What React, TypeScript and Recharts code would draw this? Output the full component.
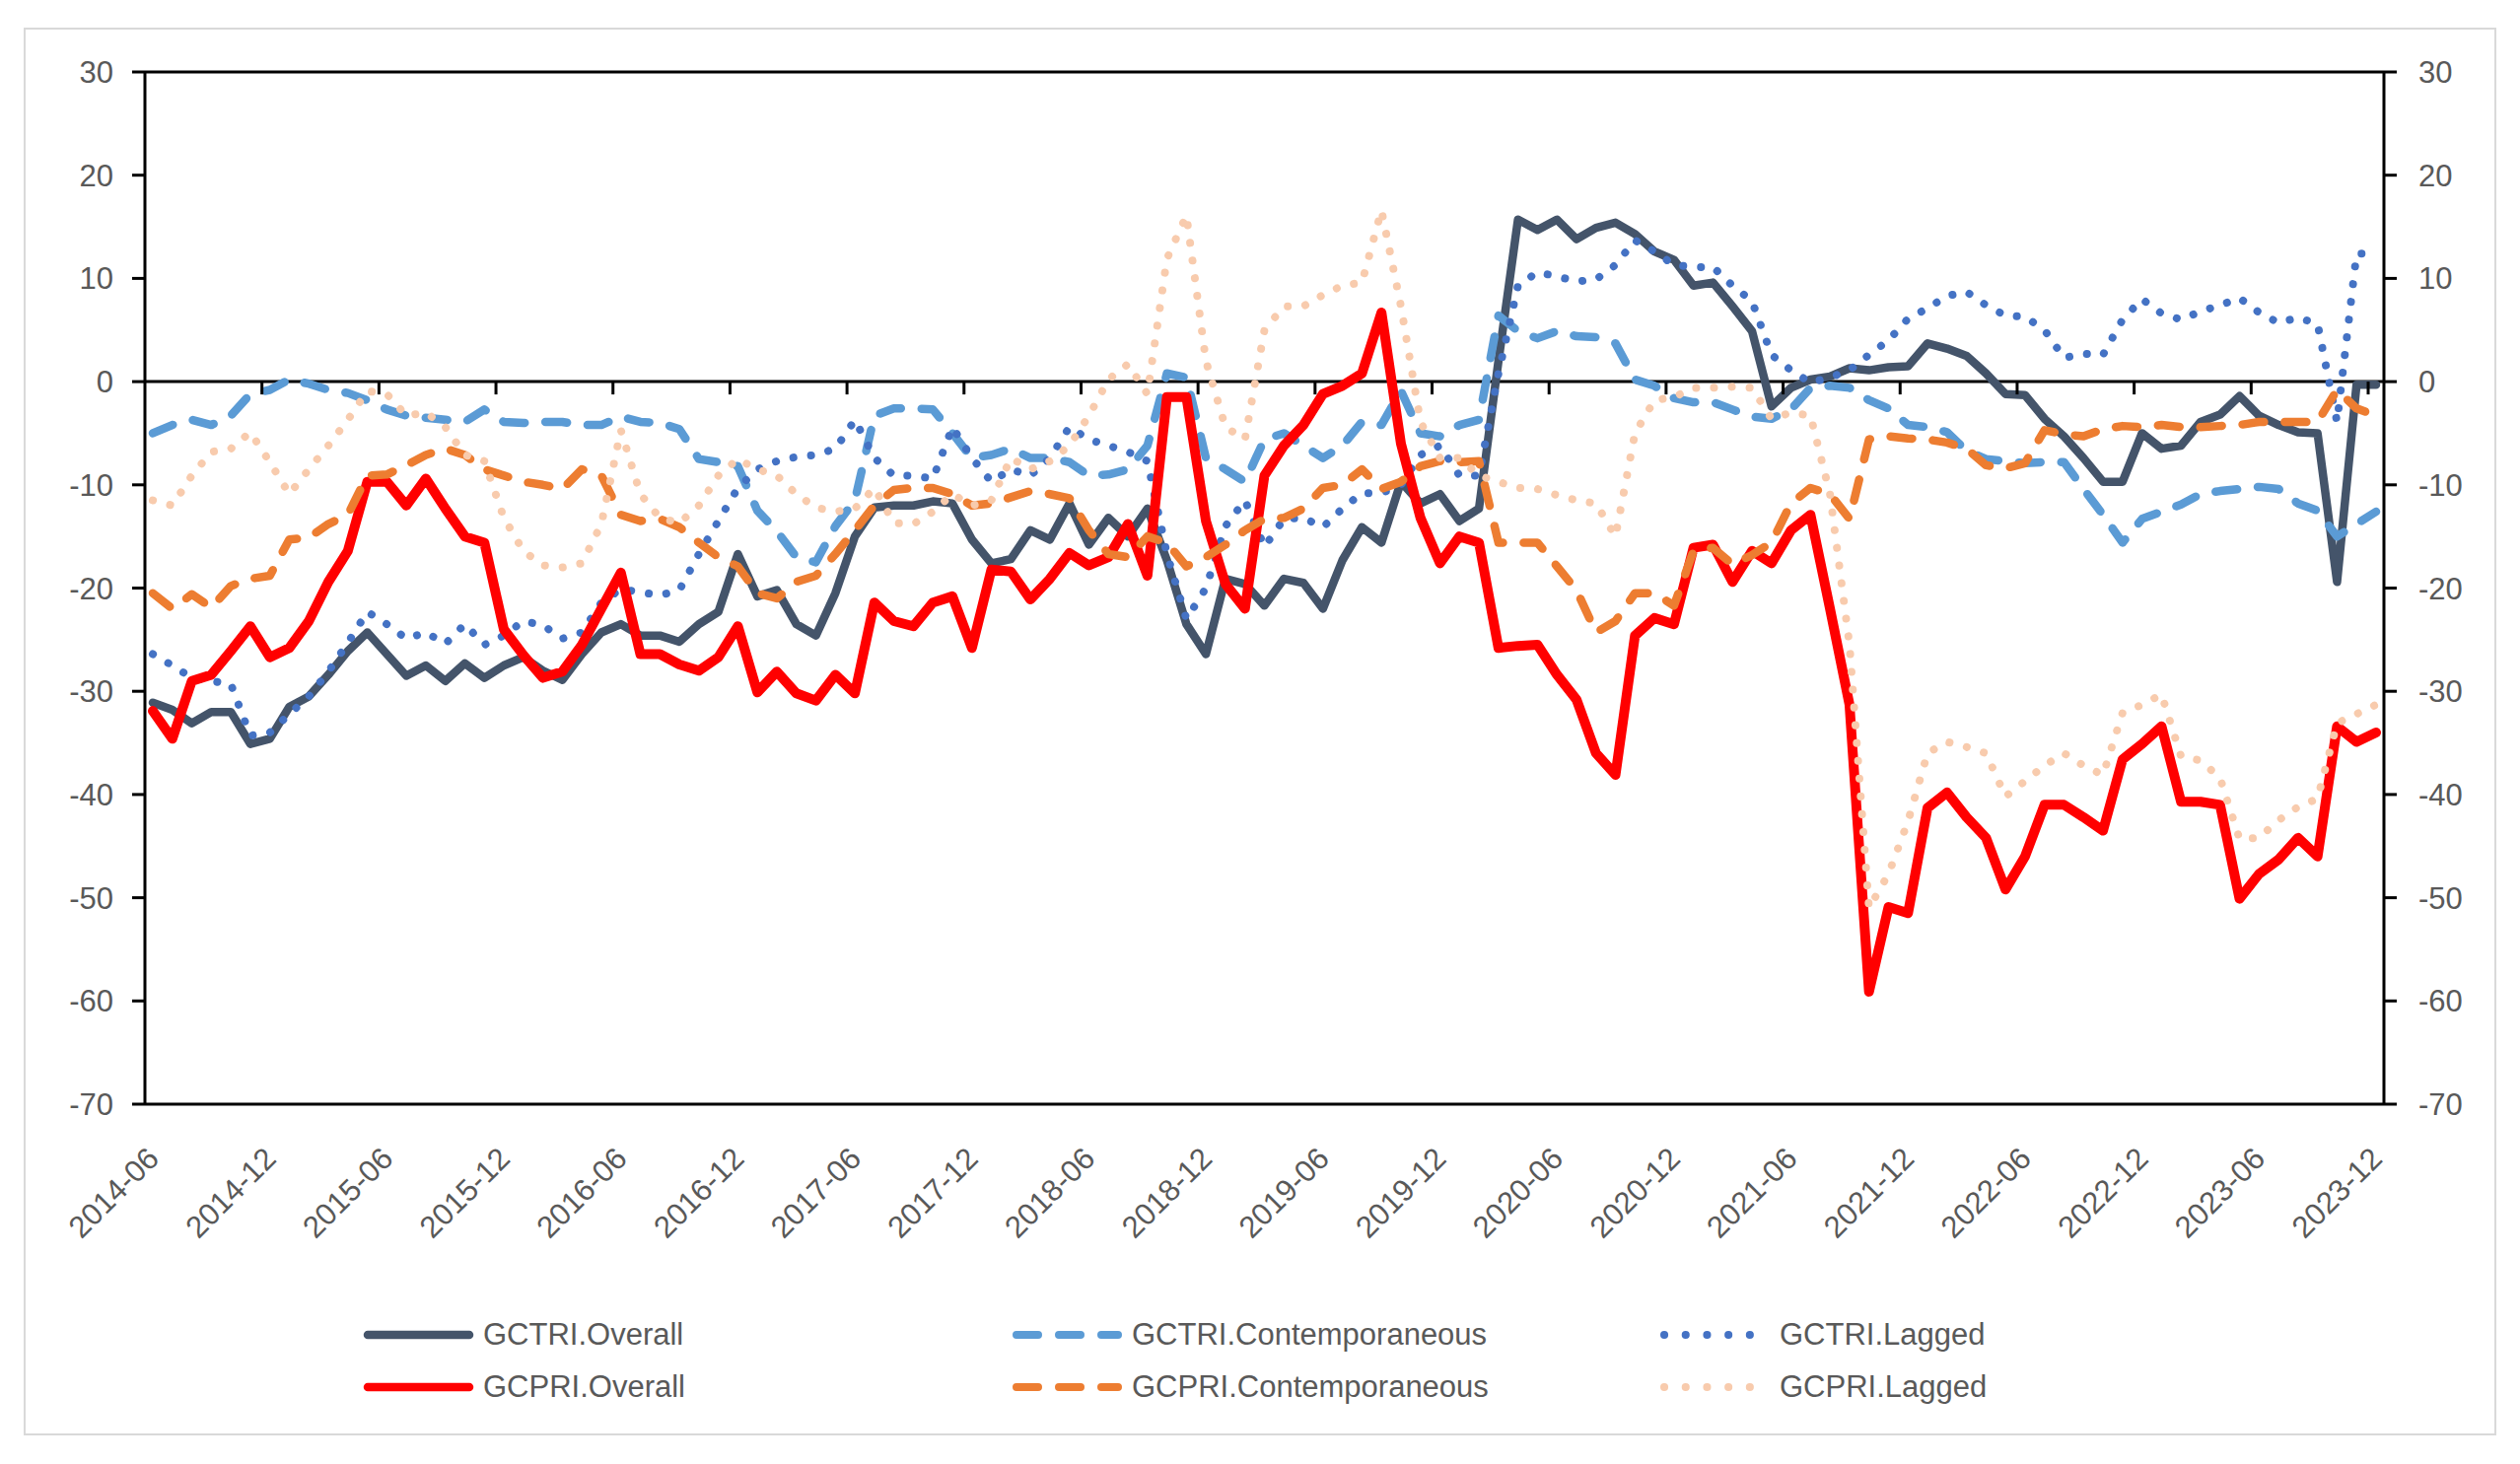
import React from "react";
import { LineChart, Line, XAxis, YAxis, ReferenceLine } from "recharts";

const FONT = "'Liberation Sans', Arial, sans-serif";
const GREY = "#595959";

// monthly categories 2014-06 .. 2023-12
const MONTHS: string[] = [];
for (let k = 0; k < 115; k++) {
  const yr = 2014 + Math.floor((5 + k) / 12);
  const mo = ((5 + k) % 12) + 1;
  MONTHS.push(`${yr}-${String(mo).padStart(2, "0")}`);
}

const Y_TICKS = [-70, -60, -50, -40, -30, -20, -10, 0, 10, 20, 30];

const GCTRI_OVERALL = [
  -31.1, -31.8, -33.1, -32.0, -32.0, -35.1, -34.6, -31.5, -30.5, -28.4, -26.1, -24.3, -26.4, -28.5, -27.5, -29.0, -27.3, -28.7, -27.5, -26.7,
  -28.0, -28.9, -26.4, -24.3, -23.5, -24.6, -24.6, -25.2, -23.5, -22.3, -16.7, -20.8, -20.2, -23.5, -24.6, -20.5, -15.0, -12.2, -12.0,
  -12.0, -11.6, -11.8, -15.3, -17.6, -17.2, -14.4, -15.3, -11.8, -15.8, -13.2, -15.0, -12.3, -17.3, -23.5, -26.4, -19.1, -19.6, -21.7,
  -19.1, -19.5, -22.0, -17.3, -14.1, -15.6, -9.7, -11.8, -10.9, -13.5, -12.3, 2.0, 15.7, 14.7, 15.7, 13.8, 14.9, 15.4, 14.3,
  12.6, 11.8, 9.3, 9.6, 7.3, 4.9, -2.4, -0.6, 0.2, 0.5, 1.3, 1.1, 1.4, 1.5, 3.7, 3.2, 2.5, 0.8, -1.2, -1.3,
  -3.6, -5.3, -7.4, -9.7, -9.7, -5.0, -6.5, -6.2, -3.9, -3.2, -1.4, -3.3, -4.2, -4.9, -5.0, -19.4, -0.3, -0.3,
];

const GCTRI_CONTEMP = [
  -5.0, -4.2, -3.7, -4.2, -3.3, -1.2, -0.8, 0.2, -0.2, -0.8, -1.1, -1.8, -2.7, -3.3, -3.5, -3.7, -3.9, -2.7, -3.9, -4.0,
  -3.9, -3.9, -4.2, -4.2, -3.4, -3.9, -4.0, -4.6, -7.5, -7.8, -8.2, -12.5, -14.5, -17.0, -17.5, -14.0, -11.5, -3.3, -2.6,
  -2.6, -2.7, -5.0, -7.4, -7.1, -6.5, -7.4, -7.4, -7.8, -9.1, -9.0, -8.5, -6.2, 0.8, 0.4, -7.4, -8.5, -9.7, -5.6,
  -5.0, -6.2, -7.4, -6.2, -3.9, -4.2, -0.9, -5.0, -5.3, -4.2, -3.7, 6.4, 4.9, 4.2, 4.9, 4.4, 4.3, 3.7, 0.2,
  -0.4, -1.6, -2.0, -2.0, -2.7, -3.4, -3.6, -2.7, -0.6, -0.4, -0.6, -1.8, -2.6, -4.2, -4.4, -4.9, -6.7, -7.5, -7.7, -7.9,
  -7.8, -7.8, -10.4, -12.9, -15.6, -13.3, -12.6, -11.9, -10.9, -10.6, -10.4, -10.2, -10.4, -11.8, -12.5, -15.0, -13.8, -12.6,
];

const GCTRI_LAGGED = [
  -26.4, -27.5, -28.7, -29.0, -29.3, -34.3, -34.0, -32.2, -30.5, -28.1, -25.3, -22.3, -23.5, -24.9, -24.3, -25.4, -23.5, -25.5, -24.6, -23.2,
  -23.6, -24.9, -24.3, -21.4, -20.1, -20.4, -20.7, -20.2, -16.7, -13.5, -10.3, -8.5, -7.7, -7.3, -7.1, -6.5, -3.7, -7.4, -9.1,
  -9.1, -9.4, -4.4, -7.4, -9.7, -8.5, -9.1, -7.4, -4.4, -5.6, -6.2, -6.8, -7.7, -16.7, -23.0, -20.0, -14.0, -11.5, -16.0,
  -13.3, -13.2, -14.1, -12.3, -10.8, -10.8, -10.0, -7.1, -6.2, -9.1, -9.1, 0.8, 9.3, 10.6, 10.2, 9.7, 9.9, 11.3, 13.7,
  12.6, 11.3, 11.1, 11.1, 9.3, 7.8, 2.6, 1.1, -0.1, 0.4, 1.1, 2.6, 4.0, 6.1, 7.1, 8.3, 8.7, 7.4, 6.4, 6.3,
  5.0, 2.3, 2.7, 2.6, 6.0, 8.0, 6.6, 6.0, 6.8, 7.4, 8.1, 6.7, 5.7, 6.2, 5.6, -3.9, 12.4, 12.4,
];

const GCPRI_OVERALL = [
  -31.9, -34.6, -29.0, -28.4, -26.1, -23.7, -26.7, -25.8, -23.2, -19.4, -16.4, -9.7, -9.7, -12.0, -9.4, -12.3, -15.0, -15.6, -24.0, -26.5,
  -28.7, -28.1, -25.5, -22.0, -18.5, -26.4, -26.4, -27.4, -28.0, -26.7, -23.7, -30.1, -28.1, -30.2, -30.9, -28.4, -30.2, -21.4, -23.2,
  -23.7, -21.4, -20.8, -25.8, -18.2, -18.4, -21.1, -19.1, -16.6, -17.8, -17.0, -13.8, -18.8, -1.5, -1.5, -13.5, -19.6, -22.0, -9.1,
  -6.2, -4.2, -1.2, -0.4, 0.8, 6.7, -6.0, -13.2, -17.6, -15.0, -15.6, -25.8, -25.6, -25.5, -28.4, -30.8, -36.0, -38.1, -24.6,
  -22.9, -23.5, -16.1, -15.8, -19.4, -16.4, -17.6, -14.4, -12.9, -22.0, -31.3, -59.1, -50.9, -51.5, -41.3, -39.8, -42.2, -44.2, -49.2, -46.0,
  -41.0, -41.0, -42.2, -43.5, -36.6, -35.1, -33.4, -40.7, -40.7, -41.0, -50.1, -47.7, -46.3, -44.2, -46.0, -33.4, -34.9, -34.0,
];

const GCPRI_CONTEMP = [
  -20.5, -22.0, -20.6, -21.9, -19.8, -19.1, -18.8, -15.3, -15.1, -13.8, -12.9, -9.1, -9.0, -8.1, -7.1, -6.5, -7.1, -8.5, -9.1, -9.7,
  -10.0, -10.4, -8.5, -9.1, -12.9, -13.5, -13.3, -14.1, -15.6, -17.0, -17.9, -20.5, -21.0, -19.4, -18.8, -16.7, -14.4, -12.0, -10.5,
  -10.3, -10.3, -10.9, -12.0, -11.8, -11.2, -10.6, -10.9, -11.3, -14.4, -16.7, -17.0, -15.0, -15.6, -17.9, -17.0, -15.8, -14.4, -13.3,
  -13.2, -12.3, -10.3, -10.0, -8.5, -10.4, -9.7, -8.2, -7.7, -7.8, -7.7, -15.6, -15.6, -15.6, -17.9, -20.2, -24.3, -23.2, -20.5,
  -20.5, -21.7, -16.4, -16.1, -17.7, -16.8, -15.6, -11.8, -10.3, -10.9, -13.3, -5.6, -5.3, -5.5, -5.6, -5.9, -6.5, -8.1, -8.4, -7.9,
  -4.7, -5.1, -5.3, -4.6, -4.3, -4.4, -4.2, -4.4, -4.4, -4.3, -4.2, -3.9, -3.9, -3.9, -3.9, -0.8, -2.6, -3.3,
];

const GCPRI_LAGGED = [
  -11.5, -12.0, -9.1, -6.8, -6.5, -4.9, -7.8, -10.9, -8.5, -6.2, -3.7, -0.9, -1.2, -3.3, -3.0, -4.4, -7.1, -7.7, -13.2, -16.4,
  -17.8, -18.0, -17.6, -13.8, -4.7, -10.9, -13.2, -13.7, -12.0, -9.1, -7.5, -8.5, -9.1, -10.9, -12.2, -12.6, -12.3, -10.3, -13.7,
  -13.8, -12.6, -10.9, -12.0, -11.5, -7.4, -8.5, -7.7, -6.2, -3.3, 0.2, 1.7, -1.2, 11.9, 16.1, 2.0, -4.4, -5.6, 5.0,
  7.3, 7.3, 8.4, 9.3, 9.6, 16.6, 7.3, -3.9, -7.4, -7.4, -9.1, -9.7, -10.3, -10.4, -11.0, -11.5, -11.8, -15.0, -5.0,
  -1.8, -1.5, -0.6, -0.6, -0.5, -0.6, -3.6, -3.0, -3.3, -10.9, -25.5, -51.0, -47.7, -42.6, -36.0, -34.9, -35.4, -36.0, -40.2, -38.7,
  -37.2, -36.0, -37.2, -38.1, -32.1, -31.3, -30.3, -36.3, -36.7, -38.4, -44.3, -44.2, -42.5, -41.2, -40.4, -33.1, -32.2, -31.3,
];

const data = MONTHS.map((month, i) => ({
  month,
  // zero-line tick mark every six months (drawn as a custom dot)
  axisTick: i > 0 && i % 6 === 0 ? 0 : null,
  gctriOverall: GCTRI_OVERALL[i],
  gctriContemp: GCTRI_CONTEMP[i],
  gctriLagged: GCTRI_LAGGED[i],
  gcpriOverall: GCPRI_OVERALL[i],
  gcpriContemp: GCPRI_CONTEMP[i],
  gcpriLagged: GCPRI_LAGGED[i],
}));

const DASH = "22 21";
const DOT = "0.1 18";

const SERIES = [
  { key: "gctriOverall", name: "GCTRI.Overall", color: "#44546A", width: 8.5, dash: undefined as string | undefined },
  { key: "gctriContemp", name: "GCTRI.Contemporaneous", color: "#5B9BD5", width: 8.5, dash: DASH },
  { key: "gctriLagged", name: "GCTRI.Lagged", color: "#4472C4", width: 8, dash: DOT },
  { key: "gcpriOverall", name: "GCPRI.Overall", color: "#FF0000", width: 10, dash: undefined as string | undefined },
  { key: "gcpriContemp", name: "GCPRI.Contemporaneous", color: "#ED7D31", width: 8.5, dash: DASH },
  { key: "gcpriLagged", name: "GCPRI.Lagged", color: "#F8CBAD", width: 8, dash: DOT },
];

const DateTick = (props: any) => {
  const { x, y, payload } = props;
  return (
    <g transform={`translate(${x + 8},${y + 57})`}>
      <text transform="rotate(-45)" textAnchor="end" fill={GREY} fontSize={31} fontFamily={FONT}>
        {payload.value}
      </text>
    </g>
  );
};

const ZeroTick = (props: any) => {
  const { cx, cy, value } = props;
  if (value === null || value === undefined || cx == null || cy == null) return <g key={props.key} />;
  return <line key={props.key} x1={cx - 8} y1={cy} x2={cx - 8} y2={cy + 13} stroke="#000" strokeWidth={3} />;
};

const LEGEND_POS = [
  { left: 368, top: 1354 },
  { left: 1026, top: 1354 },
  { left: 1683, top: 1354 },
  { left: 368, top: 1407 },
  { left: 1026, top: 1407 },
  { left: 1683, top: 1407 },
];

const LegendBlock = () => (
  <>
    {SERIES.map((s, i) => (
      <div
        key={s.key}
        style={{
          position: "absolute",
          left: LEGEND_POS[i].left,
          top: LEGEND_POS[i].top - 20,
          height: 40,
          display: "flex",
          alignItems: "center",
        }}
      >
        <svg width={122} height={40}>
          <line
            x1={5}
            y1={20}
            x2={s.dash === DOT ? 113 : 108}
            y2={20}
            stroke={s.color}
            strokeWidth={s.dash ? 8 : 8.5}
            strokeLinecap="round"
            strokeDasharray={s.dash === DOT ? "0.1 21.6" : s.dash}
          />
        </svg>
        <span style={{ fontFamily: FONT, fontSize: 31, color: GREY, lineHeight: "40px" }}>{s.name}</span>
      </div>
    ))}
  </>
);

const axisStyle = { stroke: "#000", strokeWidth: 3 };

export default function App() {
  return (
    <div style={{ position: "absolute", left: 0, top: 0, width: 2556, height: 1485, background: "#fff" }}>
      <div
        style={{
          position: "absolute",
          left: 24,
          top: 28,
          width: 2504,
          height: 1424,
          border: "2px solid #d9d9d9",
        }}
      />
      <div style={{ position: "absolute", left: 0, top: 0 }}>
        <LineChart
          width={2556}
          height={1485}
          data={data}
          margin={{ top: 73, right: 38, left: 47, bottom: 305 }}
        >
          <XAxis
            dataKey="month"
            scale="point"
            padding={{ left: 8, right: 8 }}
            interval={5}
            height={60}
            tickSize={0}
            tickMargin={0}
            axisLine={false}
            tickLine={false}
            tick={<DateTick />}
          />
          <YAxis
            yAxisId="left"
            domain={[-70, 30]}
            ticks={Y_TICKS}
            interval={0}
            allowDataOverflow
            width={100}
            tickSize={13}
            tickMargin={19}
            axisLine={axisStyle}
            tickLine={axisStyle}
            tick={{ fill: GREY, fontSize: 31, fontFamily: FONT }}
          />
          <YAxis
            yAxisId="right"
            orientation="right"
            domain={[-70, 30]}
            ticks={Y_TICKS}
            interval={0}
            allowDataOverflow
            width={100}
            tickSize={13}
            tickMargin={22}
            axisLine={axisStyle}
            tickLine={axisStyle}
            tick={{ fill: GREY, fontSize: 31, fontFamily: FONT, textAnchor: "start" }}
          />
          <ReferenceLine yAxisId="left" y={30} stroke="#000" strokeWidth={3} />
          <ReferenceLine yAxisId="left" y={-70} stroke="#000" strokeWidth={3} />
          <ReferenceLine yAxisId="left" y={0} stroke="#000" strokeWidth={3} />
          <Line
            yAxisId="left"
            dataKey="axisTick"
            stroke="none"
            dot={<ZeroTick />}
            activeDot={false}
            legendType="none"
            isAnimationActive={false}
          />
          {SERIES.map((s) => (
            <Line
              key={s.key}
              yAxisId="left"
              type="linear"
              dataKey={s.key}
              name={s.name}
              stroke={s.color}
              strokeWidth={s.width}
              strokeDasharray={s.dash}
              strokeLinecap="round"
              strokeLinejoin="round"
              dot={false}
              activeDot={false}
              isAnimationActive={false}
            />
          ))}
        </LineChart>
      </div>
      <LegendBlock />
    </div>
  );
}
